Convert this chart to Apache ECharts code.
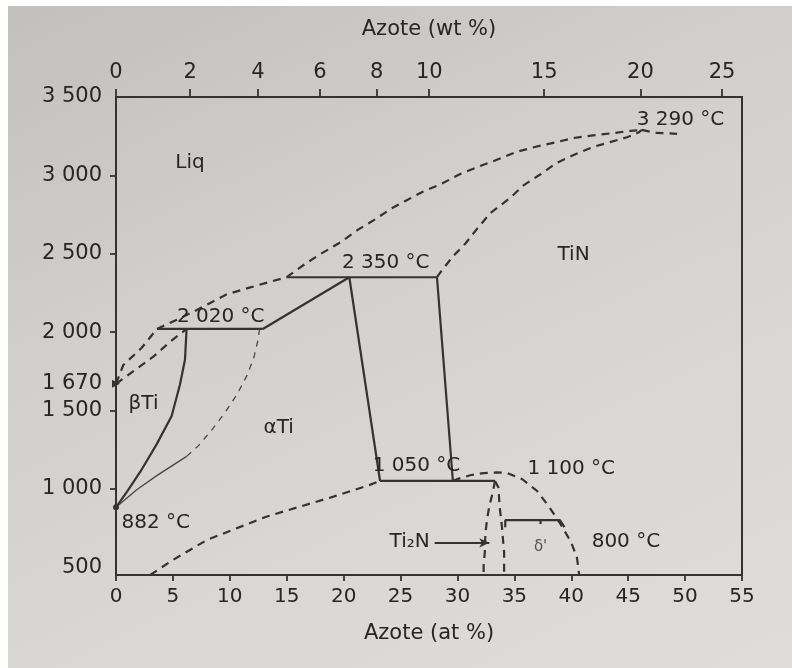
<!DOCTYPE html>
<html><head><meta charset="utf-8">
<script src="https://cdn.jsdelivr.net/npm/echarts@6/dist/echarts.min.js"></script>
<style>
html,body{margin:0;padding:0;background:#fff;width:792px;height:668px;overflow:hidden}
#bg{position:absolute;left:8px;top:6px;width:784px;height:662px;background:linear-gradient(155deg,#c2c0bd 0%,#d1cfcc 35%,#dad8d5 70%,#dfddda 100%)}
#chart{position:absolute;left:0;top:0;width:792px;height:668px}
</style></head><body><div id="bg"></div><div id="chart"></div>
<script>
// ---- axis ticks ----
const atTicks = [0,5,10,15,20,25,30,35,40,45,50,55];
const wtTicks = [0,2,4,6,8,10,15,20,25];
const tempTicks = [500,1000,1500,1670,2000,2500,3000,3500];
const tempTickMarks = [1000,1500,2000,2500,3000];

// ---- phase boundaries (x = at % N, y = °C) ----
const betaBoundary = [[0,882],[1.0,985],[2.11,1106],[3.58,1285],[4.89,1464],[5.62,1666],[6.06,1823],[6.2,2020]];
const peritectic2020 = [[3.6,2020],[12.9,2020]];
const alphaLiquidusSolid = [[12.9,2020],[20.5,2350]];
const peritectic2350 = [[15.0,2350],[28.2,2350]];
const alphaSolvusHigh = [[20.5,2350],[23.2,1050]];
const tinLeft = [[28.2,2350],[29.6,1050]];
const eutectoid1050 = [[23.2,1050],[33.3,1050]];
const deltaBar = [[34.2,755],[34.2,800],[39.0,800],[39.4,755]];
const deltaTick = [[37.3,800],[37.3,775]];

const betaLiquidus = [[0,1670],[0.64,1790],[2.26,1900],[3.6,2020]];
const betaSolidus = [[0,1670],[1.67,1758],[3.28,1843],[4.75,1938],[6.2,2020]];
const liquidus = [[3.6,2020],[5.4,2080],[7.1,2141],[9.7,2240],[11.8,2285],[13.5,2320],[15.0,2350],[16.6,2434],[17.9,2495],[19.7,2572],[21.3,2655],[22.8,2721],[24.2,2789],[25.5,2840],[27.0,2897],[28.6,2946],[30.2,3007],[31.8,3054],[33.3,3095],[35.2,3150],[36.8,3181],[38.7,3212],[40.2,3238],[41.9,3255],[43.7,3270],[45.2,3284],[46.2,3290]];
const tinSolidus = [[28.2,2350],[28.6,2391],[29.6,2483],[30.7,2565],[31.7,2657],[32.9,2760],[34.6,2854],[35.8,2936],[37.3,3007],[38.7,3079],[40.5,3140],[41.9,3181],[43.4,3212],[44.9,3243],[45.9,3273],[46.2,3290]];
const afterPeak = [[46.2,3290],[47.3,3272],[49.3,3265]];
const alphaBetaThin = [[0,882],[1.82,994],[3.58,1084],[6.21,1207]];
const alphaBetaDashed = [[6.21,1207],[7.23,1274],[8.41,1375],[9.58,1487],[10.6,1598],[11.5,1722],[12.1,1834],[12.5,1957],[12.6,2020]];
const alphaSolvusLow = [[3.0,450],[5.0,546],[8.0,674],[13.2,822],[19.1,950],[22.3,1025],[23.2,1050]];
const tinArch = [[29.6,1050],[30.1,1065],[31.2,1088],[32.3,1100],[33.5,1105],[34.4,1100],[35.7,1061],[37.0,986],[38.1,880],[39.1,770],[40.0,657],[40.5,561],[40.7,450]];
const ti2nLeft = [[33.3,1050],[33.1,976],[32.8,890],[32.6,805],[32.45,710],[32.4,593],[32.3,512],[32.3,450]];
const ti2nRight = [[33.3,1050],[33.6,1008],[33.7,890],[33.9,763],[34.0,678],[34.1,593],[34.1,450]];

const keyPointAt = [0,0];
const keyPointTemp = [882,1670];
const ti2nArrow = [[28.0,655],[32.8,655]];

// ---- annotations ----
const annotationTexts = ['Liq','βTi','αTi','TiN','2 020 °C','2 350 °C','3 290 °C','1 050 °C','1 100 °C','882 °C','800 °C','Ti₂N',"δ'"];
const annotationAt =    [6.5, 2.42, 14.3, 40.2, 9.2, 23.7, 49.6, 26.4, 40.0, 3.5, 44.8, 25.8, 37.3];
const annotationTemp =  [3079,1545, 1390, 2490, 2100, 2443, 3354, 1146, 1127, 786, 660, 665, 628];

function wtToAt(w){ const n = w/14.007, t = (100-w)/47.867; return 100*n/(n+t); }
const wtTickPos = wtTicks.map(wtToAt);

const INK = '#333333';
const TXT = '#262626';
const FONT = 'DejaVu Sans';
function fmtT(v){ return v >= 1000 ? Math.floor(v/1000) + ' ' + String(v % 1000).padStart(3,'0') : String(v); }

function solid(data){ return {type:'line', data, showSymbol:false, silent:true, lineStyle:{color:INK, width:2.2}, z:3}; }
function dashed(data){ return {type:'line', data, showSymbol:false, silent:true, lineStyle:{color:INK, width:2.2, type:[8,6]}, z:3}; }
function thin(data, dash){ return {type:'line', data, showSymbol:false, silent:true, lineStyle:{color:'#474747', width:1.3, type: dash ? [6,6] : 'solid'}, z:3}; }

const chart = echarts.init(document.getElementById('chart'), null, {renderer:'canvas'});
chart.setOption({
  backgroundColor: 'transparent',
  animation: false,
  textStyle: {fontFamily: FONT},
  grid: {left:116, right:50, top:97, bottom:93, show:true, borderColor:INK, borderWidth:2, backgroundColor:'transparent'},
  xAxis: [{
    type:'value', min:0, max:55, position:'bottom',
    name:'Azote (at %)', nameLocation:'middle', nameGap:48,
    nameTextStyle:{fontSize:21, color:TXT, fontFamily:FONT},
    axisLine:{show:true, lineStyle:{color:INK, width:2}},
    axisTick:{show:true, inside:false, length:6, lineStyle:{color:INK, width:1.8}, customValues:atTicks},
    axisLabel:{fontSize:20, color:TXT, margin:12, fontFamily:FONT, customValues:atTicks},
    splitLine:{show:false}
  },{
    type:'value', min:0, max:55, position:'top',
    name:'Azote (wt %)', nameLocation:'middle', nameGap:57,
    nameTextStyle:{fontSize:21, color:TXT, fontFamily:FONT},
    axisLine:{show:true, lineStyle:{color:INK, width:2}},
    axisTick:{show:true, inside:false, length:8, lineStyle:{color:INK, width:1.8}, customValues:wtTickPos},
    axisLabel:{fontSize:21, color:TXT, margin:14, fontFamily:FONT, customValues:wtTickPos,
      formatter: v => { const i = wtTickPos.findIndex(p => Math.abs(p - v) < 1e-6); return i >= 0 ? String(wtTicks[i]) : ''; }},
    splitLine:{show:false}
  }],
  yAxis: {
    type:'value', min:450, max:3500,
    axisLine:{show:true, lineStyle:{color:INK, width:2}},
    axisTick:{show:true, inside:false, length:6, lineStyle:{color:INK, width:1.8}, customValues:tempTickMarks},
    axisLabel:{fontSize:21, color:TXT, margin:14, fontFamily:FONT, customValues:tempTicks, formatter: fmtT},
    splitLine:{show:false}
  },
  series: [
    solid(betaBoundary), solid(peritectic2020), solid(alphaLiquidusSolid), solid(peritectic2350),
    solid(alphaSolvusHigh), solid(tinLeft), solid(eutectoid1050), solid(deltaBar), solid(deltaTick),
    dashed(betaLiquidus), dashed(betaSolidus), dashed(liquidus), dashed(tinSolidus), dashed(afterPeak),
    thin(alphaBetaThin, false), thin(alphaBetaDashed, true),
    dashed(alphaSolvusLow), dashed(tinArch), dashed(ti2nLeft), dashed(ti2nRight),
    {
      type:'scatter', silent:true, clip:false, z:5,
      data: keyPointAt.map((x,i) => ({value:[x, keyPointTemp[i]],
        symbol: i === 0 ? 'circle' : 'triangle', symbolRotate: i === 0 ? 0 : -90,
        symbolSize: i === 0 ? 6 : 8})),
      itemStyle:{color:INK, opacity:1}
    },
    {
      type:'scatter', silent:true, clip:false, z:6, symbolSize:0,
      itemStyle:{opacity:1, color:TXT},
      data: annotationTexts.map((t,i) => ({value:[annotationAt[i], annotationTemp[i]],
        label:{show:true, position:'inside', formatter:t, fontSize: i === 12 ? 15 : 20,
          color: i === 12 ? '#555555' : TXT, fontFamily:FONT, opacity:1}})),
      markLine:{silent:true, symbol:['none','arrow'], symbolSize:[7,10], label:{show:false},
        lineStyle:{color:INK, width:1.8, type:'solid', opacity:1},
        data:[[{coord:ti2nArrow[0]},{coord:ti2nArrow[1]}]]}
    }
  ]
});
</script></body></html>
